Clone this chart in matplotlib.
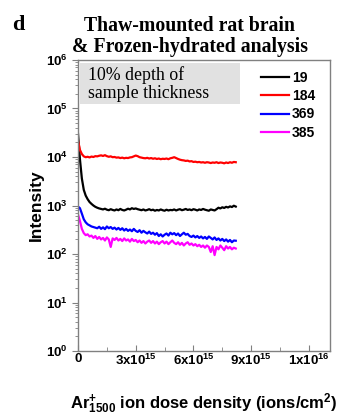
"""
Depth profile, thaw-mounted rat brain, frozen-hydrated analysis.
"""
import numpy as np
import matplotlib
matplotlib.use("Agg")
import matplotlib.pyplot as plt
from matplotlib.patches import Rectangle
from matplotlib.ticker import LogLocator, NullFormatter, FixedLocator

# dose grid, 1e15 ions/cm2 steps of 0.1
dose = np.round(np.arange(0, 8.25, 0.1), 1) * 1e15

labels = ["19", "184", "369", "385"]
colors = ["black", "red", "blue", "magenta"]

i_19 = [30000, 9000, 3600, 2100, 1600, 1350, 1180, 1080, 1000, 940,
        900, 870, 850, 830, 860, 820, 800, 840, 810, 790,
        830, 800, 850, 810, 790, 820, 860, 830, 880, 850,
        870, 840, 820, 800, 830, 790, 810, 840, 800, 820,
        780, 810, 790, 830, 800, 780, 820, 790, 810, 800,
        830, 790, 820, 840, 800, 820, 850, 810, 830, 800,
        840, 820, 790, 830, 810, 850, 820, 800, 780, 830,
        810, 790, 840, 900, 870, 920, 890, 940, 910, 960,
        930, 990, 950]
i_184 = [22000, 14000, 11500, 10300, 9900, 10100, 9800, 10200, 10000, 10400,
         10300, 10600, 10800, 10500, 10900, 10400, 10100, 10300, 9900, 10000,
         9700, 9800, 9500, 9700, 9400, 9600, 9500, 9800, 9900, 10300,
         10700, 10400, 9900, 9700, 9500, 9400, 9600, 9300, 9500, 9200,
         9400, 9100, 9300, 9000, 9200, 9100, 9300, 9000, 9400, 9600,
         9900, 9500, 9100, 8800, 8600, 8500, 8300, 8400, 8100, 8200,
         7900, 8000, 7800, 7900, 7700, 7800, 7600, 7800, 7700, 7500,
         7700, 7600, 7800, 7500, 7700, 7600, 7400, 7700, 7500, 7800,
         7600, 7900, 7800]
i_369 = [950, 880, 680, 520, 450, 410, 390, 370, 360, 350,
         340, 365, 330, 355, 325, 370, 340, 360, 330, 350,
         320, 345, 315, 340, 305, 330, 300, 320, 295, 330,
         300, 285, 310, 275, 300, 280, 265, 290, 260, 275,
         250, 270, 235, 255, 230, 250, 265, 240, 275, 255,
         270, 245, 265, 235, 255, 275, 250, 260, 235, 225,
         240, 220, 235, 215, 230, 210, 225, 205, 230, 215,
         200, 220, 195, 210, 190, 205, 185, 200, 180, 195,
         175, 190, 188]
i_385 = [650, 480, 330, 270, 245, 255, 230, 240, 215, 235,
         205, 225, 200, 215, 190, 220, 200, 140, 210, 195,
         215, 190, 205, 185, 210, 190, 200, 180, 205, 185,
         195, 175, 190, 170, 185, 165, 180, 190, 170, 185,
         165, 180, 160, 175, 185, 165, 180, 160, 175, 190,
         170, 160, 175, 155, 170, 150, 165, 175, 155, 165,
         150, 160, 145, 155, 140, 150, 135, 150, 140, 110,
         145, 95, 140, 125, 150, 135, 120, 145, 130, 140,
         125, 135, 130]
series = [i_19, i_184, i_369, i_385]

xticks = [0, 3e15, 6e15, 9e15, 1.2e16]
xticklabels = ["0", r"3x10$^{15}$", r"6x10$^{15}$", r"9x10$^{15}$", r"1x10$^{16}$"]

plt.rcParams["font.family"] = ["Liberation Sans", "DejaVu Sans"]
plt.rcParams["mathtext.fontset"] = "custom"
plt.rcParams["mathtext.rm"] = "Liberation Sans:bold"
plt.rcParams["mathtext.it"] = "Liberation Sans:bold"
plt.rcParams["mathtext.bf"] = "Liberation Sans:bold"

fig = plt.figure(figsize=(3.38, 4.15), dpi=100)
ax = fig.add_axes([0.2308, 0.154, 0.7456, 0.7016])

for y, c, lab in zip(series, colors, labels):
    ax.plot(dose, y, color=c, lw=1.6, label=lab)

ax.set_yscale("log")
ax.set_ylim(1, 1e6)
ax.set_xlim(0, 1.31e16)
ax.yaxis.set_minor_locator(LogLocator(base=10, subs=np.arange(2, 10), numticks=20))
ax.yaxis.set_minor_formatter(NullFormatter())
ax.set_yticks([1, 10, 100, 1e3, 1e4, 1e5, 1e6])
ax.set_yticklabels([r"10$^{%d}$" % k for k in range(7)])
ax.set_xticks(xticks)
ax.set_xticklabels(xticklabels)
ax.xaxis.set_minor_locator(FixedLocator([1.5e15, 4.5e15, 7.5e15, 1.05e16]))

for s in ax.spines.values():
    s.set_color("#808080")
    s.set_linewidth(1.0)
ax.tick_params(axis="y", which="both", direction="out", color="#808080", labelsize=9.5)
ax.tick_params(axis="y", which="major", length=4)
ax.tick_params(axis="y", which="minor", length=2)
ax.tick_params(axis="x", which="both", direction="in", color="#808080", labelsize=9.5, pad=1.5)
ax.tick_params(axis="x", which="major", length=4)
ax.tick_params(axis="x", which="minor", length=3)
for t in ax.get_xticklabels() + ax.get_yticklabels():
    t.set_fontweight("bold")

ax.set_ylabel("Intensity", fontsize=12.5, fontweight="bold", labelpad=1)
ax.set_xlabel(r"Ar$^{+}_{1500}$ ion dose density (ions/cm$^{2}$)",
              fontsize=12, fontweight="bold", labelpad=17)

# gray annotation box in the upper-left corner
ax.add_patch(Rectangle((0.008, 0.849), 0.635, 0.141, transform=ax.transAxes,
                       fc="#e1e1e1", ec="none", zorder=1))
ax.text(0.04, 0.978, "10% depth of\nsample thickness", transform=ax.transAxes,
        family="Liberation Serif", fontsize=12.8, va="top", ha="left",
        linespacing=1.05, zorder=2)

leg = ax.legend(loc="upper right", bbox_to_anchor=(0.985, 1.0), frameon=False,
                fontsize=10, handlelength=2.0, handletextpad=0.2,
                labelspacing=0.3, borderaxespad=0.4)
for t in leg.get_texts():
    t.set_fontweight("bold")

fig.text(0.562, 0.912, "Thaw-mounted rat brain\n& Frozen-hydrated analysis",
         ha="center", va="center", family="Liberation Serif", fontweight="bold",
         fontsize=14.2, linespacing=1.05)
fig.text(0.035, 0.94, "d", family="Liberation Serif", fontweight="bold",
         fontsize=16, va="center", ha="left")

fig.savefig("out.png", dpi=100)
